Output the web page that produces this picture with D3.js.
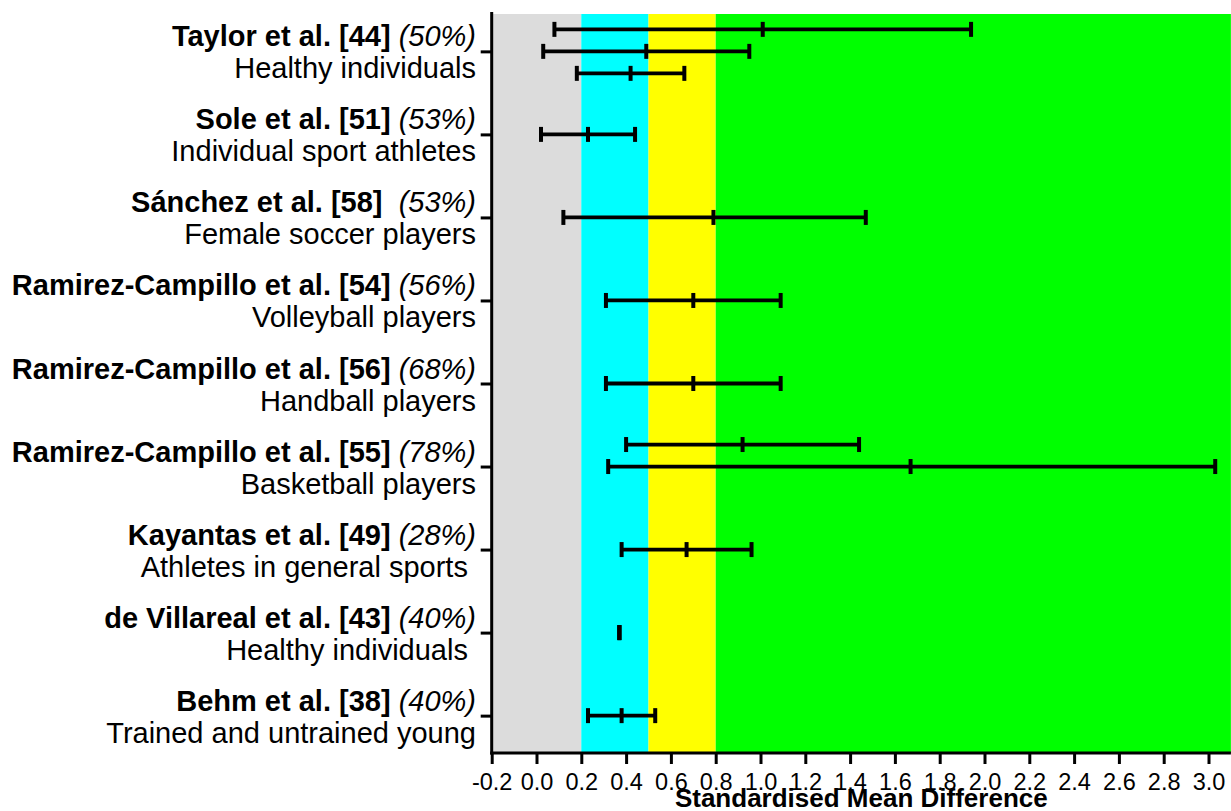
<!DOCTYPE html>
<html>
<head>
<meta charset="utf-8">
<script src="https://cdn.jsdelivr.net/npm/d3@7"></script>
<style>
  html, body { margin: 0; padding: 0; background: #fff; }
  svg { display: block; font-family: "Liberation Sans", Arial, sans-serif; }
  text { white-space: pre; }
</style>
</head>
<body>
<svg id="chart" width="1231" height="811"></svg>
<script>
// ---- data ----
const studies = [
  "Taylor et al. [44]", "Sole et al. [51]", "Sánchez et al. [58]",
  "Ramirez-Campillo et al. [54]", "Ramirez-Campillo et al. [56]",
  "Ramirez-Campillo et al. [55]", "Kayantas et al. [49]",
  "de Villareal et al. [43]", "Behm et al. [38]"
];
const percents = [" (50%)", " (53%)", "  (53%)", " (56%)", " (68%)", " (78%)", " (28%)", " (40%)", " (40%)"];
const populations = [
  "Healthy individuals", "Individual sport athletes", "Female soccer players",
  "Volleyball players", "Handball players", "Basketball players",
  "Athletes in general sports ", "Healthy individuals ", "Trained and untrained young"
];
// one entry per error bar
const estStudy = [0, 0, 0, 1, 2, 3, 4, 5, 5, 6, 7, 8];
const estSub   = [-1, 0, 1, 0, 0, 0, 0, -1, 0, 0, 0, 0];
const lower    = [0.08, 0.03, 0.18, 0.02, 0.12, 0.31, 0.31, 0.40, 0.32, 0.38, 0.37, 0.23];
const smd      = [1.01, 0.49, 0.42, 0.23, 0.79, 0.70, 0.70, 0.92, 1.67, 0.67, 0.37, 0.38];
const upper    = [1.94, 0.95, 0.66, 0.44, 1.47, 1.09, 1.09, 1.44, 3.03, 0.96, 0.37, 0.53];
// effect-size bands
const bandFrom   = [-0.2, 0.2, 0.5, 0.8];
const bandTo     = [0.2, 0.5, 0.8, 3.1];
const bandColors = ["#dcdcdc", "#00ffff", "#ffff00", "#00ff00"];
const xTicks = [-0.2, 0.0, 0.2, 0.4, 0.6, 0.8, 1.0, 1.2, 1.4, 1.6, 1.8, 2.0, 2.2, 2.4, 2.6, 2.8, 3.0];
const xTitle = "Standardised Mean Difference";

// ---- layout ----
const svg = d3.select("#chart");
const pL = 491.7, pR = 1230.9, pT = 14, pB = 753;
const subGap = 22;

const x = d3.scaleLinear().domain([-0.2, 3.1]).range([pL, pR]);
const y = d3.scalePoint().domain(d3.range(studies.length)).range([pT, pB]).padding(0.45);

// bands
svg.append("g").selectAll("rect").data(bandFrom).join("rect")
  .attr("x", (d) => x(d))
  .attr("y", pT)
  .attr("width", (d, i) => x(bandTo[i]) - x(d))
  .attr("height", pB - pT)
  .attr("fill", (d, i) => bandColors[i]);

// error bars
const bars = svg.append("g").attr("stroke", "#000").attr("stroke-width", 3.8).attr("fill", "none");
const capH = 7.5;
lower.forEach((lo, i) => {
  const yy = y(estStudy[i]) + estSub[i] * subGap;
  if (upper[i] > lo) {
    bars.append("line").attr("x1", x(lo)).attr("x2", x(upper[i])).attr("y1", yy).attr("y2", yy);
  }
  [lo, smd[i], upper[i]].forEach((v) => {
    bars.append("line").attr("x1", x(v)).attr("x2", x(v)).attr("y1", yy - capH).attr("y2", yy + capH)
      .attr("stroke-width", 4);
  });
});

// x axis
const xAxis = d3.axisBottom(x).tickValues(xTicks)
  .tickFormat((d) => d3.format(".1f")(d).replace("\u2212", "-"))
  .tickSize(11).tickSizeOuter(0).tickPadding(9);
const gx = svg.append("g").attr("transform", `translate(0,${pB})`).call(xAxis);
gx.select(".domain").attr("stroke-width", 3).attr("d", `M${pL - 1.5},0H${pR}`);
gx.selectAll(".tick line").attr("stroke-width", 3);
gx.selectAll(".tick text").attr("font-size", 23.5).attr("font-family", "Liberation Sans, Arial, sans-serif").attr("fill", "#000");

// y axis
const yAxis = d3.axisLeft(y).tickFormat("").tickSize(11).tickSizeOuter(0);
const gy = svg.append("g").attr("transform", `translate(${pL},0)`).call(yAxis);
gy.select(".domain").attr("stroke-width", 3).attr("d", `M0,${pT - 2}V${pB + 1.5}`);
gy.selectAll(".tick line").attr("stroke-width", 3);

// study labels
const labX = 476;
const lab = svg.append("g").attr("fill", "#000").attr("font-size", 29);
studies.forEach((s, i) => {
  const t = lab.append("text").attr("x", labX).attr("y", y(i) - 5).attr("text-anchor", "end");
  t.append("tspan").attr("font-weight", "bold").text(s);
  t.append("tspan").attr("font-style", "italic").text(percents[i]);
  lab.append("text").attr("x", labX).attr("y", y(i) + 27).attr("text-anchor", "end").text(populations[i]);
});

// x title
svg.append("text")
  .attr("x", (pL + pR) / 2).attr("y", 807)
  .attr("text-anchor", "middle").attr("font-weight", "bold").attr("font-size", 26)
  .text(xTitle);
</script>
</body>
</html>
